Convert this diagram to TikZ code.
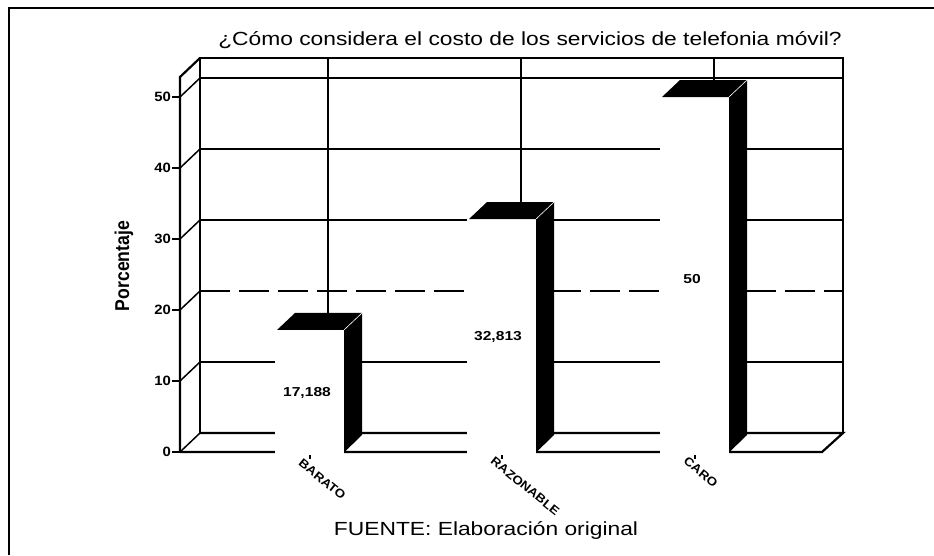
\documentclass[tikz,border=0pt]{standalone}
\usepackage{fontspec}
\setmainfont{Liberation Sans}
\newfontfamily\widefont[FakeStretch=1.2]{Liberation Sans}
\newfontfamily\widebold[FakeStretch=1.2]{Liberation Sans Bold}
\newfontfamily\catbold[FakeStretch=1.12]{Liberation Sans Bold}
\newfontfamily\tickbold[FakeStretch=1.1]{Liberation Sans Bold}
\newfontfamily\narrowbold[FakeStretch=0.88]{Liberation Sans Bold}
\begin{document}
\begin{tikzpicture}[x=1pt,y=-1pt,
  wall/.style={line width=2.2pt,line join=miter},
  gridl/.style={line width=1.5pt},
  ticklab/.style={font=\tickbold\fontsize{13.5}{14}\selectfont, anchor=east, inner sep=1pt},
  vallab/.style={font=\widebold\fontsize{13}{14}\selectfont, inner sep=0pt},
  catlab/.style={font=\catbold\fontsize{12}{13}\selectfont, rotate=-39, anchor=north west, inner sep=0pt},
]
\useasboundingbox (0,0) rectangle (934,555);
% outer frame (only top and left are visible)
\draw[line width=1.4pt] (9,555) -- (9,8) -- (934,8);
% title
\node[font=\widefont\fontsize{19}{20}\selectfont] (title) at (530,40) {¿Cómo considera el costo de los servicios de telefonia móvil?};
% back wall horizontal gridlines
\foreach \v in {10,30,40,50}
  \draw[gridl] (200,{433-7.1*\v}) -- (843,{433-7.1*\v});
\draw[gridl,dash pattern=on 30pt off 9pt] (200,{433-7.1*20}) -- (843,{433-7.1*20});
% back wall vertical gridlines at categories
\foreach \x in {328,521,714}
  \draw[gridl] (\x,58) -- (\x,433);
% back wall outline
\draw[wall] (200,433) -- (200,58) -- (843,58) -- (843,433);
% floor
\draw[wall] (180,452) -- (822,452) -- (843,433) -- (200,433);
% left wall
\draw[wall] (180,452) -- (180,77) -- (200,58);
\foreach \v in {0,10,20,30,40,50}
  \draw[gridl] (180,{452-7.1*\v}) -- (200,{433-7.1*\v});
% y ticks and labels
\foreach \v in {0,10,20,30,40,50}{
  \draw[gridl] (172,{452-7.1*\v}) -- (180,{452-7.1*\v});
  \node[ticklab] (t\v) at (172,{452-7.1*\v}) {\v};
}
% category ticks
\foreach \x in {310,502,695}
  \draw[line width=1.5pt] (\x,455) -- (\x,459);
% bars
\foreach \xl/\val/\nm in {277/17.188/b1,469/32.813/b2,662/50/b3}{
  \pgfmathsetmacro{\yt}{452-7.1*\val}
  \fill[white] (\xl-2,\yt) rectangle (\xl+67,453.5);
  \fill[black] (\xl,\yt) -- (\xl+18,\yt-17) -- (\xl+85,\yt-17) -- (\xl+67,\yt) -- cycle;
  \fill[black] (\xl+67,\yt) -- (\xl+85,\yt-17) -- (\xl+85,435) -- (\xl+67,452.5) -- cycle;
  \draw[white,line width=0.6pt] (\xl+67,\yt) -- (\xl+85,\yt-17);
}
% value labels
\node[vallab] (v1) at (307,393) {17,188};
\node[vallab] (v2) at (498,337) {32,813};
\node[vallab] (v3) at (692,279) {50};
% category labels
\node[catlab] (c1) at (303,458) {BARATO};
\node[catlab] (c2) at (495,456) {RAZONABLE};
\node[catlab] (c3) at (688,456) {CARO};
% axis title
\node[font=\narrowbold\fontsize{20}{21}\selectfont, rotate=90] (ylab) at (124,266) {Porcentaje};
% source
\node[font=\widefont\fontsize{19}{20}\selectfont] (src) at (486,530) {FUENTE: Elaboración original};
\end{tikzpicture}
\end{document}
